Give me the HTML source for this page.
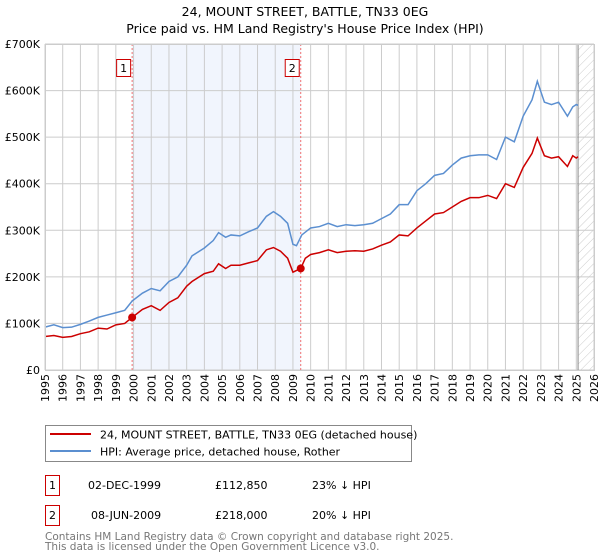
<!DOCTYPE html>
<html><head><meta charset="utf-8"><style>
body{margin:0;background:#fff;font-family:"DejaVu Sans","Liberation Sans",sans-serif;}
svg{display:block}
</style></head><body>
<svg id="c" width="600" height="560" xmlns="http://www.w3.org/2000/svg" font-family="DejaVu Sans, Liberation Sans, sans-serif">
<text x="305" y="16" text-anchor="middle" font-size="12.5">24, MOUNT STREET, BATTLE, TN33 0EG</text>
<text x="305" y="33" text-anchor="middle" font-size="12.5">Price paid vs. HM Land Registry's House Price Index (HPI)</text>
<defs><pattern id="hatch" width="6" height="6" patternUnits="userSpaceOnUse" patternTransform="rotate(45)"><line x1="0" y1="0" x2="0" y2="6" stroke="#ccc" stroke-width="1"/></pattern></defs>
<g id="grid"></g>
<g id="marks"></g>
<g id="legend">
<rect x="45.5" y="425.5" width="366" height="36" fill="#fff" stroke="#888"/>
<line x1="50" y1="434" x2="91" y2="434" stroke="#cc0000" stroke-width="2"/>
<text x="100" y="438.5" font-size="11">24, MOUNT STREET, BATTLE, TN33 0EG (detached house)</text>
<line x1="50" y1="451" x2="91" y2="451" stroke="#5b8fd0" stroke-width="2"/>
<text x="100" y="455.5" font-size="11">HPI: Average price, detached house, Rother</text>
</g>
<g font-size="11">
<rect x="45.5" y="475.5" width="14" height="20" fill="#fff" stroke="#cc0000"/>
<text x="52.5" y="489" text-anchor="middle">1</text>
<text x="88" y="489">02-DEC-1999</text>
<text x="215" y="489">£112,850</text>
<text x="312" y="489">23% ↓ HPI</text>
<rect x="45.5" y="505.5" width="14" height="20" fill="#fff" stroke="#cc0000"/>
<text x="52.5" y="519" text-anchor="middle">2</text>
<text x="91" y="519">08-JUN-2009</text>
<text x="215" y="519">£218,000</text>
<text x="312" y="519">20% ↓ HPI</text>
</g>
<text x="45" y="540" font-size="10.5" fill="#777">Contains HM Land Registry data © Crown copyright and database right 2025.</text>
<text x="45" y="550" font-size="10.5" fill="#777">This data is licensed under the Open Government Licence v3.0.</text>
</svg>
<script>
const yearTicks=[1995,1996,1997,1998,1999,2000,2001,2002,2003,2004,2005,2006,2007,2008,2009,2010,2011,2012,2013,2014,2015,2016,2017,2018,2019,2020,2021,2022,2023,2024,2025,2026];
const valueTicks=[0,100,200,300,400,500,600,700];
const valueTickLabels=["£0","£100K","£200K","£300K","£400K","£500K","£600K","£700K"];
const hpiX=[1995,1995.5,1996,1996.5,1997,1997.5,1998,1998.5,1999,1999.5,1999.92,2000.5,2001,2001.5,2002,2002.5,2003,2003.3,2004,2004.5,2004.8,2005.2,2005.5,2006,2006.5,2007,2007.5,2007.9,2008.3,2008.7,2009.0,2009.2,2009.5,2010,2010.5,2011,2011.5,2012,2012.5,2013,2013.5,2014,2014.5,2015,2015.5,2016,2016.5,2017,2017.5,2018,2018.5,2019,2019.5,2020,2020.5,2021,2021.5,2022,2022.5,2022.8,2023.2,2023.6,2024,2024.5,2024.8,2025.0,2025.1];
const hpiY=[92,97,91,92,98,105,113,118,123,128,148,165,175,170,190,200,225,245,262,278,295,285,290,288,297,305,330,340,330,315,270,267,290,305,308,315,308,312,310,312,315,325,335,355,355,385,400,418,422,440,455,460,462,462,452,500,490,545,580,620,575,570,575,545,565,570,568];
const priceX=[1995,1995.5,1996,1996.5,1997,1997.5,1998,1998.5,1999,1999.5,1999.92,2000.5,2001,2001.5,2002,2002.5,2003,2003.3,2004,2004.5,2004.8,2005.2,2005.5,2006,2006.5,2007,2007.5,2007.9,2008.3,2008.7,2009.0,2009.44,2009.7,2010,2010.5,2011,2011.5,2012,2012.5,2013,2013.5,2014,2014.5,2015,2015.5,2016,2016.5,2017,2017.5,2018,2018.5,2019,2019.5,2020,2020.5,2021,2021.5,2022,2022.5,2022.8,2023.2,2023.6,2024,2024.5,2024.8,2025.0,2025.1];
const priceY=[72,74,70,72,78,82,90,88,97,100,112.85,130,138,128,145,155,180,190,207,212,228,218,225,225,230,235,258,263,255,240,210,218,240,248,252,258,252,255,256,255,260,268,275,290,288,305,320,335,338,350,362,370,370,375,368,400,392,435,465,498,460,455,458,437,460,455,458];
const saleX=[1999.92,2009.44];
const saleY=[112.85,218];
const saleLabels=["1","2"];
const X0=45,X1=594,Y0=370,Y1=44;
const xs=y=>X0+(y-1995)/(2026-1995)*(X1-X0);
const ys=v=>Y0-v/700*(Y0-Y1);
const NS="http://www.w3.org/2000/svg";
function mk(tag,attrs,parent,text){const e=document.createElementNS(NS,tag);for(const k in attrs)e.setAttribute(k,attrs[k]);if(text!==undefined)e.textContent=text;parent.appendChild(e);return e;}
const grid=document.getElementById('grid'),marks=document.getElementById('marks');
// shaded span
let r=mk('rect',{x:xs(saleX[0]),y:Y1,width:xs(saleX[1])-xs(saleX[0]),height:Y0-Y1,fill:'#eef2fc',opacity:0.8},grid);


// hatch
r=mk('rect',{x:xs(2025.1),y:Y1,width:X1-xs(2025.1),height:Y0-Y1,fill:'url(#hatch)'},grid);


yearTicks.forEach(t=>{
  const l=mk('line',{x1:xs(t),x2:xs(t),y1:Y1,y2:Y0,stroke:'#ccc','stroke-width':1},grid);
  
  
  const tx=mk('text',{x:0,y:0,'font-size':11,'text-anchor':'end',transform:`translate(${xs(t)+4},374) rotate(-90)`},grid,String(t));
  
  
});
valueTicks.forEach((v,i)=>{
  const l=mk('line',{x1:X0,x2:X1,y1:ys(v),y2:ys(v),stroke:'#ccc','stroke-width':1},grid);
  
  
  const tx=mk('text',{x:40,y:ys(v)+4,'font-size':11,'text-anchor':'end'},grid,valueTickLabels[i]);
  
  
});
let l=mk('line',{x1:xs(2025.1),x2:xs(2025.1),y1:Y1,y2:Y0,stroke:'#888','stroke-width':1},grid);


saleX.forEach((sx,i)=>{
  const d=mk('line',{x1:xs(sx),x2:xs(sx),y1:Y1,y2:Y0,stroke:'#f07070','stroke-width':1,'stroke-dasharray':'2,2'},grid);
  
  
});
const hp=mk('polyline',{points:hpiX.map((x,i)=>xs(x)+','+ys(hpiY[i])).join(' '),fill:'none',stroke:'#5b8fd0','stroke-width':1.5},marks);


const pp=mk('polyline',{points:priceX.map((x,i)=>xs(x)+','+ys(priceY[i])).join(' '),fill:'none',stroke:'#cc0000','stroke-width':1.5},marks);


saleX.forEach((sx,i)=>{
  const c=mk('circle',{cx:xs(sx),cy:ys(saleY[i]),r:4,fill:'#cc0000'},marks);
  
  
  const b=mk('rect',{x:xs(sx)-15.5,y:59.5,width:14,height:17,fill:'#fff',stroke:'#cc0000'},marks);
  
  
  const t=mk('text',{x:xs(sx)-8.5,y:72,'font-size':11,'text-anchor':'middle'},marks,saleLabels[i]);
  
  
});
const fr=mk('rect',{x:X0+0.5,y:Y1+0.5,width:X1-X0,height:Y0-Y1,fill:'none',stroke:'#ccc'},marks);


</script>
</body></html>
